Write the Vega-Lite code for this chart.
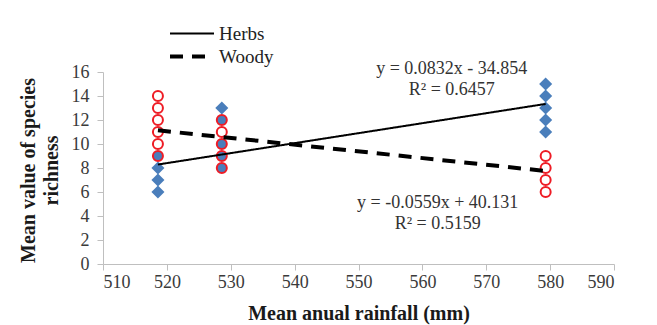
{
  "$schema": "https://vega.github.io/schema/vega-lite/v6.json",
  "autosize": "none",
  "width": 511,
  "height": 192,
  "padding": {"left": 103, "top": 72, "right": 43, "bottom": 61},
  "background": "white",
  "config": {
    "view": {"stroke": null},
    "font": "Liberation Serif",
    "axis": {
      "domainColor": "#bfbfbf",
      "tickColor": "#bfbfbf",
      "tickSize": 6,
      "grid": false,
      "labelFont": "Liberation Serif",
      "labelFontSize": 18,
      "labelColor": "#3a3a3a",
      "titleFont": "Liberation Serif",
      "titleFontWeight": "bold",
      "titleColor": "#1a1a1a"
    }
  },
  "datasets": {
    "points": [
      {"series": "Herbs", "rainfall": 518.6, "richness": 6},
      {"series": "Herbs", "rainfall": 518.6, "richness": 7},
      {"series": "Herbs", "rainfall": 518.6, "richness": 8},
      {"series": "Herbs", "rainfall": 518.6, "richness": 9},
      {"series": "Herbs", "rainfall": 528.6, "richness": 8},
      {"series": "Herbs", "rainfall": 528.6, "richness": 9},
      {"series": "Herbs", "rainfall": 528.6, "richness": 10},
      {"series": "Herbs", "rainfall": 528.6, "richness": 12},
      {"series": "Herbs", "rainfall": 528.6, "richness": 13},
      {"series": "Herbs", "rainfall": 579.3, "richness": 11},
      {"series": "Herbs", "rainfall": 579.3, "richness": 12},
      {"series": "Herbs", "rainfall": 579.3, "richness": 13},
      {"series": "Herbs", "rainfall": 579.3, "richness": 14},
      {"series": "Herbs", "rainfall": 579.3, "richness": 15},
      {"series": "Woody", "rainfall": 518.6, "richness": 9},
      {"series": "Woody", "rainfall": 518.6, "richness": 10},
      {"series": "Woody", "rainfall": 518.6, "richness": 11},
      {"series": "Woody", "rainfall": 518.6, "richness": 12},
      {"series": "Woody", "rainfall": 518.6, "richness": 13},
      {"series": "Woody", "rainfall": 518.6, "richness": 14},
      {"series": "Woody", "rainfall": 528.6, "richness": 8},
      {"series": "Woody", "rainfall": 528.6, "richness": 9},
      {"series": "Woody", "rainfall": 528.6, "richness": 10},
      {"series": "Woody", "rainfall": 528.6, "richness": 11},
      {"series": "Woody", "rainfall": 528.6, "richness": 12},
      {"series": "Woody", "rainfall": 579.3, "richness": 6},
      {"series": "Woody", "rainfall": 579.3, "richness": 7},
      {"series": "Woody", "rainfall": 579.3, "richness": 8},
      {"series": "Woody", "rainfall": 579.3, "richness": 9}
    ],
    "trend": [
      {"series": "Herbs", "rainfall": 518.6, "richness": 8.29},
      {"series": "Herbs", "rainfall": 579.3, "richness": 13.34},
      {"series": "Woody", "rainfall": 518.6, "richness": 11.14},
      {"series": "Woody", "rainfall": 579.3, "richness": 7.75}
    ],
    "labels": [
      {"rainfall": 564.6, "richness": 16.25, "text": "y = 0.0832x - 34.854"},
      {"rainfall": 564.6, "richness": 14.5, "text": "R² = 0.6457"},
      {"rainfall": 562.4, "richness": 5.1, "text": "y = -0.0559x + 40.131"},
      {"rainfall": 562.4, "richness": 3.35, "text": "R² = 0.5159"}
    ]
  },
  "encoding": {
    "x": {
      "field": "rainfall",
      "type": "quantitative",
      "scale": {"domain": [510, 590], "nice": false, "zero": false},
      "axis": {"values": [510, 520, 530, 540, 550, 560, 570, 580, 590], "title": "Mean anual rainfall (mm)", "titleFontSize": 20, "titlePadding": 12, "labelPadding": 3}
    },
    "y": {
      "field": "richness",
      "type": "quantitative",
      "scale": {"domain": [0, 16], "nice": false},
      "axis": {"values": [0, 2, 4, 6, 8, 10, 12, 14, 16], "title": ["Mean value of species", "richness"], "titleFontSize": 20, "titleLineHeight": 23, "titleY": 98, "titlePadding": 10, "labelPadding": 8}
    }
  },
  "layer": [
    {
      "data": {"name": "points"},
      "transform": [
        {"joinaggregate": [{"op": "count", "as": "n"}], "groupby": ["rainfall", "richness"]},
        {"filter": "datum.series === 'Herbs' && datum.n === 1"}
      ],
      "mark": {"type": "point", "shape": "diamond", "filled": true, "size": 170, "color": "#4a7ebb", "opacity": 1}
    },
    {
      "data": {"name": "points"},
      "transform": [
        {"joinaggregate": [{"op": "count", "as": "n"}], "groupby": ["rainfall", "richness"]},
        {"filter": "datum.series === 'Woody'"}
      ],
      "mark": {"type": "point", "shape": "circle", "size": 100, "stroke": "#ee1c25", "strokeWidth": 2, "opacity": 1},
      "encoding": {
        "fill": {"condition": {"test": "datum.n === 2", "value": "#4a7ebb"}, "value": "white"}
      }
    },
    {
      "data": {"name": "trend"},
      "mark": {"type": "line", "color": "black"},
      "encoding": {
        "detail": {"field": "series"},
        "strokeDash": {
          "field": "series",
          "type": "nominal",
          "scale": {"domain": ["Herbs", "Woody"], "range": [[1, 0], [13, 9]]},
          "legend": {
            "title": null,
            "orient": "none",
            "legendX": 65,
            "legendY": -50,
            "rowPadding": 0,
            "clipHeight": 23,
            "symbolType": "stroke",
            "symbolSize": 1936,
            "symbolStrokeColor": "black",
            "labelFont": "Liberation Serif",
            "labelFontSize": 19,
            "labelColor": "#222",
            "labelOffset": 3
          }
        },
        "strokeWidth": {
          "field": "series",
          "type": "nominal",
          "scale": {"domain": ["Herbs", "Woody"], "range": [2, 4]},
          "legend": null
        }
      }
    },
    {
      "data": {"name": "labels"},
      "mark": {"type": "text", "font": "Liberation Serif", "fontSize": 18, "color": "#333"},
      "encoding": {"text": {"field": "text"}}
    }
  ]
}
